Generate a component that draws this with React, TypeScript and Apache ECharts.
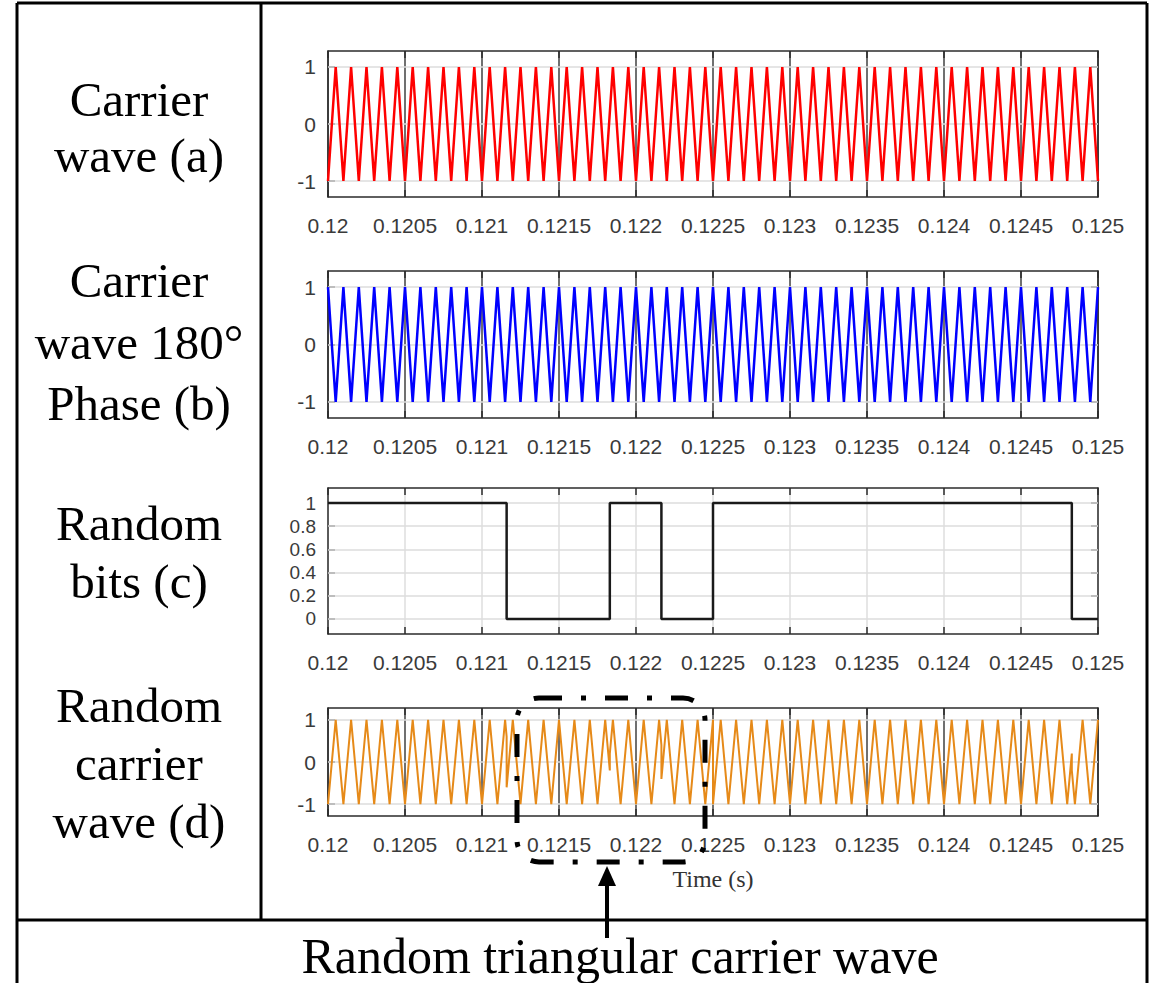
import React, { useEffect, useRef } from "react";
import * as echarts from "echarts";

// Time window and axis ticks (seconds)
const T_START = 0.12;
const T_END = 0.125;
const X_STEP = 0.0005;

// 10 kHz triangular carrier: level at the start and at the middle of each period
const CARRIER_PERIOD = 0.0001;
const CARRIER_LEVELS = [-1, 1];

// Random bit stream: switching instants and the level held in each interval
const BIT_SWITCH_TIMES = [0.12116, 0.12183, 0.122165, 0.1225, 0.12483];
const BIT_LEVELS = [1, 0, 1, 0, 1, 0];

const WAVE_TICKS = [-1, 0, 1];
const BIT_TICKS = [0, 0.2, 0.4, 0.6, 0.8, 1];

type Pt = [number, number];

// Vertices of a carrier; sign = -1 gives the 180° shifted copy
function carrierVertices(sign: number): Pt[] {
  const half = CARRIER_PERIOD / 2;
  const n = Math.round((T_END - T_START) / half);
  const pts: Pt[] = [];
  for (let i = 0; i <= n; i++) {
    pts.push([T_START + i * half, sign * CARRIER_LEVELS[i % 2]]);
  }
  return pts;
}

// Value of a carrier (given by its vertices) at time t
function valueAt(v: Pt[], t: number): number {
  for (let i = 0; i < v.length - 1; i++) {
    const [t0, y0] = v[i];
    const [t1, y1] = v[i + 1];
    if (t >= t0 - 1e-12 && t <= t1 + 1e-12) {
      return y0 + ((y1 - y0) * (t - t0)) / (t1 - t0);
    }
  }
  return v[v.length - 1][1];
}

const carrierA = carrierVertices(1);
const carrierB = carrierVertices(-1);

const edges = [T_START, ...BIT_SWITCH_TIMES, T_END];

const bitSeries: Pt[] = [];
const randomCarrier: Pt[] = [];
BIT_LEVELS.forEach((lvl, j) => {
  const t0 = edges[j];
  const t1 = edges[j + 1];
  bitSeries.push([t0, lvl], [t1, lvl]);
  const src = lvl === 1 ? carrierA : carrierB;
  randomCarrier.push([t0, valueAt(src, t0)]);
  src.forEach((p) => {
    if (p[0] > t0 + 1e-9 && p[0] < t1 - 1e-9) randomCarrier.push(p);
  });
  randomCarrier.push([t1, valueAt(src, t1)]);
});

const TICK_FONT = "'Liberation Sans Narrow', 'Arial Narrow', 'Liberation Sans', sans-serif";
const SERIF = "'Liberation Serif', 'Times New Roman', serif";
const BOX = "#2b2b2b";

interface Panel {
  top: number;
  height: number;
  yMin: number;
  yMax: number;
  yTicks: number[];
  color: string;
  width: number;
  data: Pt[];
  darkVertical: boolean;
  yFont: number;
  name?: string;
}

const panels: Panel[] = [
  { top: 51, height: 146, yMin: -1.28, yMax: 1.28, yTicks: WAVE_TICKS, color: "#ff0000", width: 2.5, data: carrierA, darkVertical: true, yFont: 21 },
  { top: 271, height: 147, yMin: -1.28, yMax: 1.28, yTicks: WAVE_TICKS, color: "#0000ff", width: 2.5, data: carrierB, darkVertical: true, yFont: 21 },
  { top: 488, height: 146, yMin: -0.13, yMax: 1.13, yTicks: BIT_TICKS, color: "#1a1a1a", width: 2.5, data: bitSeries, darkVertical: false, yFont: 19 },
  { top: 708, height: 108, yMin: -1.28, yMax: 1.28, yTicks: WAVE_TICKS, color: "#e68a19", width: 2, data: randomCarrier, darkVertical: true, yFont: 21, name: "Time (s)" },
];

const fmtX = (v: number) => parseFloat(v.toFixed(5)).toString();

function buildOption() {
  const grid: any[] = [];
  const xAxis: any[] = [];
  const yAxis: any[] = [];
  const series: any[] = [];

  panels.forEach((p, i) => {
    grid.push({ left: 328, right: 59, top: p.top, height: p.height });
    const line = { show: true, onZero: false, lineStyle: { color: BOX, width: 1.5 } };
    const tick = { show: true, inside: true, length: 7, lineStyle: { color: BOX, width: 1.5 } };
    xAxis.push({
      type: "value",
      gridIndex: i,
      position: "bottom",
      min: T_START,
      max: T_END,
      interval: X_STEP,
      axisLine: line,
      axisTick: tick,
      axisLabel: {
        formatter: fmtX,
        fontFamily: TICK_FONT,
        fontSize: 21,
        color: "#3a3a3a",
        margin: 18,
        showMinLabel: true,
        showMaxLabel: true,
      },
      splitLine: {
        show: true,
        lineStyle: p.darkVertical ? { color: "#404040", width: 1.5 } : { color: "#dedede", width: 1.5 },
      },
      name: p.name,
      nameLocation: "middle",
      nameGap: 51,
      nameTextStyle: { fontFamily: SERIF, fontSize: 24, color: "#333" },
    });
    xAxis.push({
      type: "value",
      gridIndex: i,
      position: "top",
      min: T_START,
      max: T_END,
      interval: X_STEP,
      axisLine: line,
      axisTick: tick,
      axisLabel: { show: false },
      splitLine: { show: false },
    });
    yAxis.push({
      type: "value",
      gridIndex: i,
      position: "left",
      min: p.yMin,
      max: p.yMax,
      axisLine: line,
      axisTick: { ...tick, customValues: p.yTicks },
      axisLabel: {
        customValues: p.yTicks,
        formatter: (v: number) => String(parseFloat(v.toFixed(2))),
        fontFamily: TICK_FONT,
        fontSize: p.yFont,
        color: "#3a3a3a",
        margin: 12,
      },
      splitLine: { show: false },
    });
    yAxis.push({
      type: "value",
      gridIndex: i,
      position: "right",
      min: p.yMin,
      max: p.yMax,
      axisLine: line,
      axisTick: { ...tick, customValues: p.yTicks },
      axisLabel: { show: false },
      splitLine: { show: false },
    });
    series.push({
      type: "line",
      xAxisIndex: 2 * i,
      yAxisIndex: 2 * i,
      data: p.data,
      showSymbol: false,
      symbol: "none",
      z: 3,
      lineStyle: { color: p.color, width: p.width },
      markLine: {
        silent: true,
        z: 1,
        symbol: ["none", "none"],
        label: { show: false },
        emphasis: { disabled: true },
        lineStyle: { color: "#dcdcdc", width: 1.5, type: "solid" },
        data: p.yTicks.map((v) => ({ yAxis: v })),
      },
    });
  });

  const labelText = (text: string, baseline: number) => ({
    type: "text",
    x: 139,
    y: baseline - 17,
    style: { text, fontFamily: SERIF, fontSize: 49, fill: "#000", align: "center", verticalAlign: "middle" },
  });

  const border = { stroke: "#000", lineWidth: 3 };

  const graphic: any[] = [
    // table frame
    { type: "line", shape: { x1: 17, y1: 3, x2: 1147, y2: 3 }, style: border },
    { type: "line", shape: { x1: 17, y1: 3, x2: 17, y2: 990 }, style: border },
    { type: "line", shape: { x1: 1147, y1: 3, x2: 1147, y2: 990 }, style: border },
    { type: "line", shape: { x1: 261, y1: 3, x2: 261, y2: 920 }, style: border },
    { type: "line", shape: { x1: 17, y1: 920, x2: 1147, y2: 920 }, style: border },
    // row labels
    labelText("Carrier", 116),
    labelText("wave (a)", 172),
    labelText("Carrier", 297),
    labelText("wave 180°", 359),
    labelText("Phase (b)", 420),
    labelText("Random", 540),
    labelText("bits (c)", 598),
    labelText("Random", 722),
    labelText("carrier", 780),
    labelText("wave (d)", 838),
    // caption
    {
      type: "text",
      x: 620,
      y: 973 - 17,
      style: {
        text: "Random triangular carrier wave",
        fontFamily: SERIF,
        fontSize: 50,
        fill: "#000",
        align: "center",
        verticalAlign: "middle",
      },
    },
    // highlighted region of the random carrier
    {
      type: "rect",
      z: 20,
      shape: { x: 517, y: 698, width: 188, height: 164, r: 22 },
      style: { fill: "none", stroke: "#000", lineWidth: 5, lineDash: [23, 19, 5, 19] },
    },
    // arrow
    { type: "line", z: 20, shape: { x1: 607, y1: 938, x2: 607, y2: 882 }, style: { stroke: "#000", lineWidth: 4 } },
    {
      type: "polygon",
      z: 20,
      shape: { points: [[607, 866], [598, 886], [616, 886]] },
      style: { fill: "#000" },
    },
  ];

  return { animation: false, backgroundColor: "#fff", grid, xAxis, yAxis, series, graphic };
}

export default function App() {
  const ref = useRef<HTMLDivElement>(null);
  useEffect(() => {
    if (!ref.current) return;
    const chart = echarts.init(ref.current, undefined, { renderer: "svg" });
    chart.setOption(buildOption() as any);
    return () => chart.dispose();
  }, []);
  return (
    <div
      ref={ref}
      style={{ position: "absolute", left: 0, top: 0, width: 1157, height: 983, background: "#fff" }}
    />
  );
}
